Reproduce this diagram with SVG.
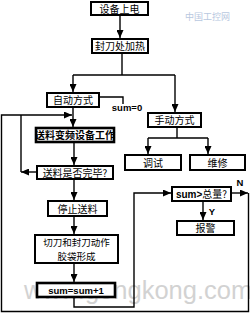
<svg xmlns="http://www.w3.org/2000/svg" width="250" height="313" viewBox="0 0 250 313">
<style>
.box{fill:#fff;stroke:#000;stroke-width:2}
.bold{stroke-width:2.6}
.t{font-family:"Noto Sans CJK SC","Liberation Sans",sans-serif;font-size:10px;fill:#000;text-anchor:middle}
.t2{font-family:"Noto Sans CJK SC","Liberation Sans",sans-serif;font-size:9.5px;fill:#000;text-anchor:middle}
.tb{font-family:"Liberation Sans","Noto Sans CJK SC",sans-serif;font-size:9.5px;font-weight:bold;fill:#000;text-anchor:middle}
.ln{fill:none;stroke:#000;stroke-width:1.4}
.wm{font-family:"Liberation Sans",sans-serif;font-size:25.5px;fill:#c8c8c8;opacity:0.8}
</style>
<defs>
<marker id="ah" markerUnits="userSpaceOnUse" markerWidth="8" markerHeight="7" refX="8" refY="3.5" orient="auto">
<path d="M0,0 L8,3.5 L0,7 z" fill="#000"/>
</marker>
</defs>
<rect width="250" height="313" fill="#fff"/>
<g id="watermark">
<text x="185" y="20" font-family="Noto Sans CJK SC,sans-serif" font-size="9" fill="#b8c8e0">中国工控网</text>
<text x="24" y="299" class="wm">www.gongkong.com</text>
</g>
<g id="connectors">
<line class="ln" x1="120" y1="16" x2="120" y2="38" marker-end="url(#ah)"/>
<polyline class="ln" points="122,53 122,75"/>
<line class="ln" x1="73" y1="75" x2="175" y2="75"/>
<line class="ln" x1="73" y1="75" x2="73" y2="92" marker-end="url(#ah)"/>
<line class="ln" x1="175" y1="75" x2="175" y2="112" marker-end="url(#ah)"/>
<polyline class="ln" points="99,97 123,97 123,104"/>
<line class="ln" x1="73" y1="107" x2="73" y2="127" marker-end="url(#ah)"/>
<line class="ln" x1="74" y1="142" x2="74" y2="165" marker-end="url(#ah)"/>
<line class="ln" x1="37" y1="172" x2="21" y2="172" marker-end="url(#ah)"/>
<polyline class="ln" points="21,172 21,115"/>
<polyline class="ln" points="248.5,193 248.5,311.5 1.5,311.5 1.5,115 72,115" marker-end="url(#ah)"/>
<line class="ln" x1="74" y1="179" x2="74" y2="200" marker-end="url(#ah)"/>
<line class="ln" x1="74" y1="216" x2="74" y2="234" marker-end="url(#ah)"/>
<line class="ln" x1="74" y1="263" x2="74" y2="282" marker-end="url(#ah)"/>
<polyline class="ln" points="74,297 74,307 134,307 134,193 171,193" marker-end="url(#ah)"/>
<line class="ln" x1="231" y1="193" x2="248" y2="193" marker-end="url(#ah)"/>
<line class="ln" x1="203" y1="201" x2="203" y2="220" marker-end="url(#ah)"/>
<polyline class="ln" points="177,127 177,138"/>
<line class="ln" x1="148" y1="138" x2="208" y2="138"/>
<line class="ln" x1="148" y1="138" x2="148" y2="154" marker-end="url(#ah)"/>
<line class="ln" x1="208" y1="138" x2="208" y2="154" marker-end="url(#ah)"/>
<text x="127" y="111" class="tb">sum=0</text>
<text x="240" y="186" class="tb">N</text>
<text x="212" y="215" class="tb">Y</text>
</g>
<g id="n1"><rect class="box" x="91" y="2" width="57" height="13"/><text x="119.5" y="12.5" class="t">设备上电</text></g>
<g id="n2"><rect class="box" x="92" y="39" width="56" height="14"/><text x="120" y="50" class="t">封刀处加热</text></g>
<g id="n3"><rect class="box" x="47" y="93" width="52" height="14"/><text x="73" y="104" class="t">自动方式</text></g>
<g id="n4"><rect class="box" x="148" y="113" width="53" height="14"/><text x="174.5" y="124" class="t">手动方式</text></g>
<g id="n5"><rect class="box" x="125" y="155" width="56" height="15"/><text x="153" y="166.5" class="t">调试</text></g>
<g id="n6"><rect class="box" x="190" y="155" width="55" height="15"/><text x="217.5" y="166.5" class="t">维修</text></g>
<g id="n7"><rect class="box bold" x="36" y="128" width="78" height="14"/><text x="75" y="139" class="t" font-weight="bold">送料变频设备工作</text></g>
<g id="n8"><rect class="box" x="37" y="166" width="76" height="13"/><text x="75" y="176.5" class="t">送料是否完毕?</text></g>
<g id="n9"><rect class="box" x="48" y="201" width="59" height="15"/><text x="77.5" y="212.5" class="t">停止送料</text></g>
<g id="n10"><rect class="box" x="35" y="235" width="83" height="28"/><text x="76.5" y="245.5" class="t2">切刀和封刀动作</text><text x="76.5" y="259.5" class="t2">胶袋形成</text></g>
<g id="n11"><rect class="box bold" x="37" y="283" width="78" height="14"/><text x="76" y="294" class="tb">sum=sum+1</text></g>
<g id="n12"><rect class="box" x="172" y="187" width="59" height="14"/><text x="201.5" y="198" class="t"><tspan font-family="Liberation Sans,sans-serif" font-weight="bold">sum&gt;</tspan>总量?</text></g>
<g id="n13"><rect class="box" x="177" y="221" width="57" height="14"/><text x="205.5" y="232" class="t">报警</text></g>
</svg>
